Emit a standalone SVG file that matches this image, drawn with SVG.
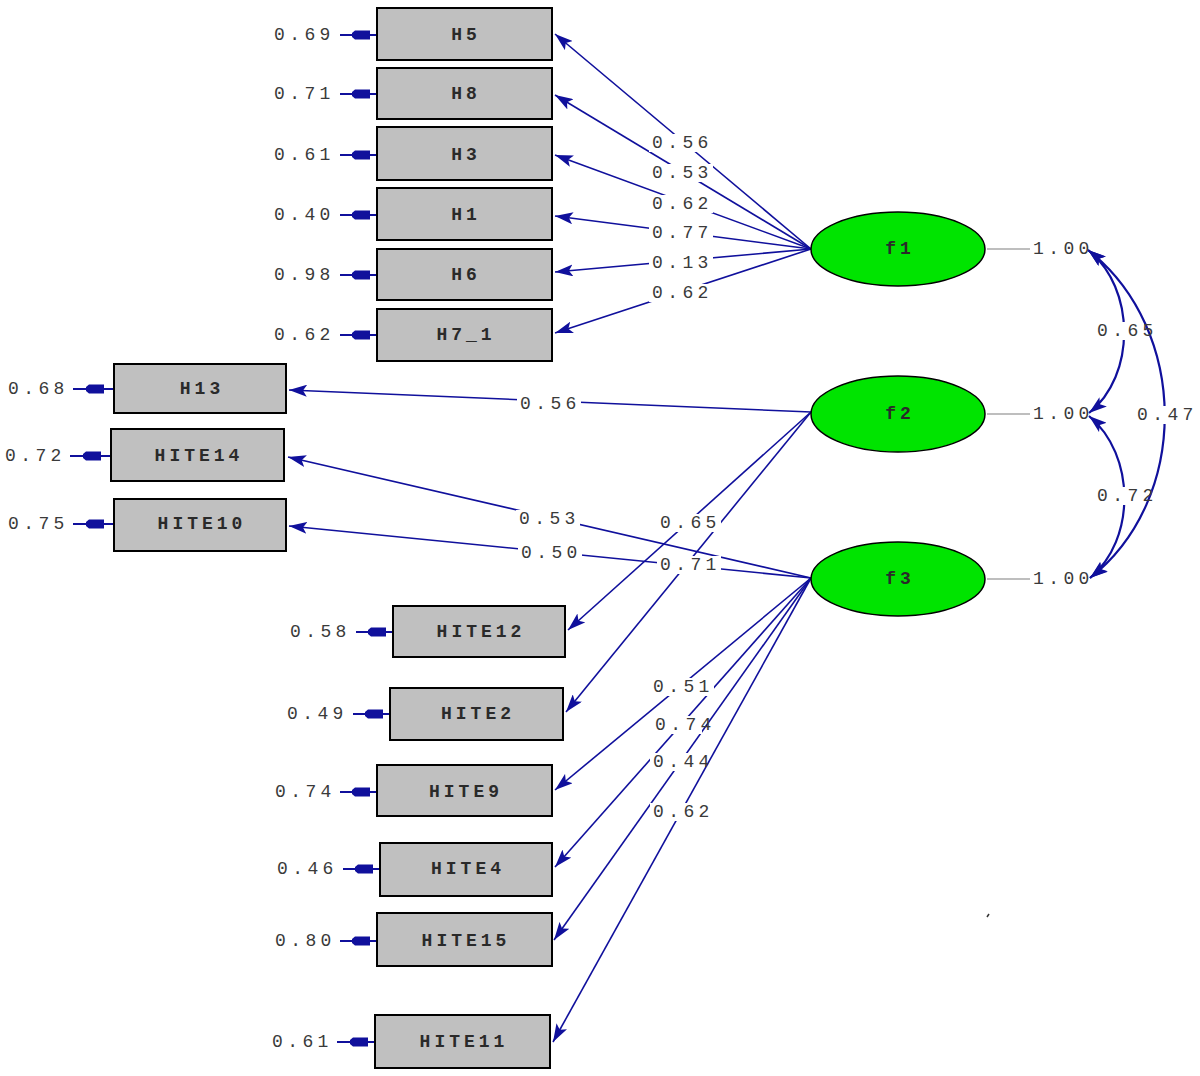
<svg xmlns="http://www.w3.org/2000/svg" xmlns:xlink="http://www.w3.org/1999/xlink" width="1200" height="1076" viewBox="0 0 1200 1076">
<style>
.box{fill:#c0c0c0;stroke:#000;stroke-width:2}
.lat{fill:#00e400;stroke:#000;stroke-width:1.5}
.bl{font-family:"Liberation Mono",monospace;font-size:18px;font-weight:bold;letter-spacing:4px;fill:#2a2a2a;text-anchor:middle;dominant-baseline:central}
.lb{font-family:"Liberation Mono",monospace;font-size:18px;letter-spacing:4.4px;fill:#3a3a3a;dominant-baseline:central}
.ld{stroke:#10109c;stroke-width:1.6;fill:none;marker-end:url(#ah)}
.cv{stroke:#10109c;stroke-width:2.2;fill:none;marker-start:url(#ah2);marker-end:url(#ah2)}
.er{stroke:#10109c;stroke-width:2;fill:none}
.eh{fill:#10109c}
.gl{stroke:#a8a8a8;stroke-width:1.5}
.bg{fill:#fff}
</style>
<defs>
<marker id="ah" viewBox="0 0 18 12" refX="18" refY="6" markerWidth="18" markerHeight="12" markerUnits="userSpaceOnUse" orient="auto">
<path d="M0,0 L18,6 L0,12 L4,6 Z" fill="#10109c"/>
</marker>
<marker id="ah2" viewBox="0 0 18 12" refX="18" refY="6" markerWidth="18" markerHeight="12" markerUnits="userSpaceOnUse" orient="auto-start-reverse">
<path d="M0,0 L18,6 L0,12 L4,6 Z" fill="#10109c"/>
</marker>
<polygon id="eh" class="eh" points="0,-2 3,-4.5 18,-4.5 18,4.5 3,4.5 0,2"/>
</defs>

<g id="connectors">
<line class="ld" x1="811" y1="249" x2="555" y2="34"/>
<line class="ld" x1="811" y1="249" x2="555" y2="95"/>
<line class="ld" x1="811" y1="249" x2="555" y2="155"/>
<line class="ld" x1="811" y1="249" x2="555" y2="216"/>
<line class="ld" x1="811" y1="249" x2="555" y2="272"/>
<line class="ld" x1="811" y1="249" x2="555" y2="333"/>
<line class="ld" x1="811" y1="412" x2="289" y2="390"/>
<line class="ld" x1="811" y1="412" x2="568" y2="630"/>
<line class="ld" x1="811" y1="412" x2="566" y2="712"/>
<line class="ld" x1="811" y1="578" x2="288" y2="457"/>
<line class="ld" x1="811" y1="578" x2="289" y2="526"/>
<line class="ld" x1="811" y1="578" x2="555" y2="790"/>
<line class="ld" x1="811" y1="578" x2="555" y2="867"/>
<line class="ld" x1="811" y1="578" x2="554" y2="940"/>
<line class="ld" x1="811" y1="578" x2="553" y2="1042"/>
<line class="gl" x1="987" y1="249" x2="1030" y2="249"/>
<line class="gl" x1="987" y1="414" x2="1030" y2="414"/>
<line class="gl" x1="987" y1="579" x2="1030" y2="579"/>
<path class="cv" d="M1088,250 C1136,288 1136,376 1089,413"/>
<path class="cv" d="M1089,416 C1136,455 1136,540 1090,578"/>
<path class="cv" d="M1088,250 C1190,330 1190,500 1090,578"/>
<g id="errors">
<line class="er" x1="340" y1="35" x2="377" y2="35"/><use xlink:href="#eh" x="352" y="35"/>
<line class="er" x1="340" y1="94" x2="377" y2="94"/><use xlink:href="#eh" x="352" y="94"/>
<line class="er" x1="340" y1="155" x2="377" y2="155"/><use xlink:href="#eh" x="352" y="155"/>
<line class="er" x1="340" y1="215" x2="377" y2="215"/><use xlink:href="#eh" x="352" y="215"/>
<line class="er" x1="340" y1="275" x2="377" y2="275"/><use xlink:href="#eh" x="352" y="275"/>
<line class="er" x1="340" y1="335" x2="377" y2="335"/><use xlink:href="#eh" x="352" y="335"/>
<line class="er" x1="73" y1="389" x2="113" y2="389"/><use xlink:href="#eh" x="86" y="389"/>
<line class="er" x1="70" y1="456" x2="111" y2="456"/><use xlink:href="#eh" x="83" y="456"/>
<line class="er" x1="73" y1="524" x2="114" y2="524"/><use xlink:href="#eh" x="86" y="524"/>
<line class="er" x1="356" y1="632" x2="393" y2="632"/><use xlink:href="#eh" x="368" y="632"/>
<line class="er" x1="353" y1="714" x2="390" y2="714"/><use xlink:href="#eh" x="365" y="714"/>
<line class="er" x1="340" y1="792" x2="377" y2="792"/><use xlink:href="#eh" x="352" y="792"/>
<line class="er" x1="343" y1="869" x2="380" y2="869"/><use xlink:href="#eh" x="355" y="869"/>
<line class="er" x1="340" y1="941" x2="377" y2="941"/><use xlink:href="#eh" x="352" y="941"/>
<line class="er" x1="337" y1="1042" x2="375" y2="1042"/><use xlink:href="#eh" x="350" y="1042"/>
</g>
<line x1="987" y1="917" x2="989" y2="914" stroke="#333" stroke-width="1.5"/>
<g id="connector-labels">
<rect class="bg" x="649" y="134" width="64" height="18"/><text class="lb" x="652" y="143">0.56</text>
<rect class="bg" x="649" y="164" width="64" height="18"/><text class="lb" x="652" y="173">0.53</text>
<rect class="bg" x="649" y="195" width="64" height="18"/><text class="lb" x="652" y="204">0.62</text>
<rect class="bg" x="649" y="224" width="64" height="18"/><text class="lb" x="652" y="233">0.77</text>
<rect class="bg" x="649" y="254" width="64" height="18"/><text class="lb" x="652" y="263">0.13</text>
<rect class="bg" x="649" y="284" width="64" height="18"/><text class="lb" x="652" y="293">0.62</text>
<rect class="bg" x="517" y="395" width="64" height="18"/><text class="lb" x="520" y="404">0.56</text>
<rect class="bg" x="657" y="514" width="64" height="18"/><text class="lb" x="660" y="523">0.65</text>
<rect class="bg" x="657" y="556" width="64" height="18"/><text class="lb" x="660" y="565">0.71</text>
<rect class="bg" x="516" y="510" width="64" height="18"/><text class="lb" x="519" y="519">0.53</text>
<rect class="bg" x="518" y="544" width="64" height="18"/><text class="lb" x="521" y="553">0.50</text>
<rect class="bg" x="650" y="678" width="64" height="18"/><text class="lb" x="653" y="687">0.51</text>
<rect class="bg" x="652" y="716" width="50" height="18"/><text class="lb" x="655" y="725">0.74</text>
<rect class="bg" x="650" y="753" width="50" height="18"/><text class="lb" x="653" y="762">0.44</text>
<rect class="bg" x="650" y="803" width="64" height="18"/><text class="lb" x="653" y="812">0.62</text>
<rect class="bg" x="1094" y="322" width="44" height="18"/><text class="lb" x="1097" y="331">0.65</text>
<rect class="bg" x="1094" y="487" width="46" height="18"/><text class="lb" x="1097" y="496">0.72</text>
<rect class="bg" x="1134" y="406" width="64" height="18"/><text class="lb" x="1137" y="415">0.47</text>
<text class="lb" x="1033" y="249">1.00</text>
<text class="lb" x="1033" y="414">1.00</text>
<text class="lb" x="1033" y="579">1.00</text>
<text class="lb" x="274" y="35">0.69</text>
<text class="lb" x="274" y="94">0.71</text>
<text class="lb" x="274" y="155">0.61</text>
<text class="lb" x="274" y="215">0.40</text>
<text class="lb" x="274" y="275">0.98</text>
<text class="lb" x="274" y="335">0.62</text>
<text class="lb" x="8" y="389">0.68</text>
<text class="lb" x="5" y="456">0.72</text>
<text class="lb" x="8" y="524">0.75</text>
<text class="lb" x="290" y="632">0.58</text>
<text class="lb" x="287" y="714">0.49</text>
<text class="lb" x="275" y="792">0.74</text>
<text class="lb" x="277" y="869">0.46</text>
<text class="lb" x="275" y="941">0.80</text>
<text class="lb" x="272" y="1042">0.61</text>
</g>
</g>

<g id="H5"><rect class="box" x="377" y="8" width="175" height="52"/><text class="bl" x="466" y="35">H5</text></g>
<g id="H8"><rect class="box" x="377" y="68" width="175" height="51"/><text class="bl" x="466" y="94">H8</text></g>
<g id="H3"><rect class="box" x="377" y="127" width="175" height="53"/><text class="bl" x="466" y="155">H3</text></g>
<g id="H1"><rect class="box" x="377" y="188" width="175" height="52"/><text class="bl" x="466" y="215">H1</text></g>
<g id="H6"><rect class="box" x="377" y="249" width="175" height="51"/><text class="bl" x="466" y="275">H6</text></g>
<g id="H7_1"><rect class="box" x="377" y="309" width="175" height="52"/><text class="bl" x="466" y="335">H7_1</text></g>
<g id="H13"><rect class="box" x="114" y="364" width="172" height="49"/><text class="bl" x="202" y="389">H13</text></g>
<g id="HITE14"><rect class="box" x="111" y="429" width="173" height="52"/><text class="bl" x="199" y="456">HITE14</text></g>
<g id="HITE10"><rect class="box" x="114" y="499" width="172" height="52"/><text class="bl" x="202" y="524">HITE10</text></g>
<g id="HITE12"><rect class="box" x="393" y="606" width="172" height="51"/><text class="bl" x="481" y="632">HITE12</text></g>
<g id="HITE2"><rect class="box" x="390" y="688" width="173" height="52"/><text class="bl" x="478" y="714">HITE2</text></g>
<g id="HITE9"><rect class="box" x="377" y="765" width="175" height="51"/><text class="bl" x="466" y="792">HITE9</text></g>
<g id="HITE4"><rect class="box" x="380" y="843" width="172" height="53"/><text class="bl" x="468" y="869">HITE4</text></g>
<g id="HITE15"><rect class="box" x="377" y="913" width="175" height="53"/><text class="bl" x="466" y="941">HITE15</text></g>
<g id="HITE11"><rect class="box" x="375" y="1015" width="175" height="53"/><text class="bl" x="464" y="1042">HITE11</text></g>

<g id="f1"><ellipse class="lat" cx="898" cy="249" rx="87" ry="37"/><text class="bl" x="900" y="249">f1</text></g>
<g id="f2"><ellipse class="lat" cx="898" cy="414" rx="87" ry="38"/><text class="bl" x="900" y="414">f2</text></g>
<g id="f3"><ellipse class="lat" cx="898" cy="579" rx="87" ry="37"/><text class="bl" x="900" y="579">f3</text></g>
</svg>
